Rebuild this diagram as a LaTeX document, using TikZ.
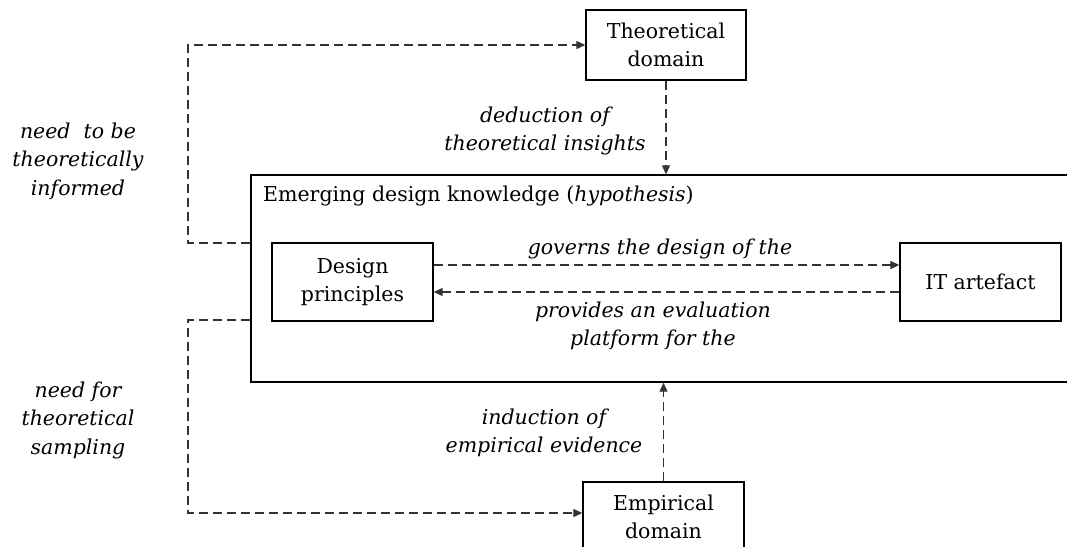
\documentclass[tikz,border=0pt]{standalone}
\usepackage{fontspec}
\setmainfont{DejaVu Serif}
\usetikzlibrary{arrows.meta}
\usetikzlibrary{positioning}
\tikzset{>={Triangle[length=9pt,width=8pt]}}
\definecolor{linegray}{HTML}{333333}
\tikzset{
  box/.style={draw=black, line width=1.4pt, fill=white, align=center, inner sep=0pt},
  flow/.style={draw=linegray, line width=1.2pt, dash pattern=on 9pt off 5pt},
  note/.style={align=center, font=\itshape},
}

\begin{document}
\begin{tikzpicture}[x=1pt, y=-1pt]
      \fontsize{20.5}{28.5}\selectfont
      \clip (0, 0) rectangle (1067, 546);
      \fill[white] (0, 0) rectangle (1067, 546);
      % nodes
      \node[box, minimum width=839, minimum height=207] (know) at (670.5, 278.5) {};
      \node[anchor=north west, inner sep=0pt] (knowlabel) at (263, 186) {Emerging design knowledge (\textit{hypothesis})};
      \node[box, minimum width=160, minimum height=70] (theo) at (666, 45) {Theoretical\\domain};
      \node[box, minimum width=161, minimum height=70] (emp) at (663.5, 517) {Empirical\\domain};
      \node[box, minimum width=161, minimum height=78] (dp) at (352.5, 282) {Design\\principles};
      \node[box, minimum width=161, minimum height=78] (it) at (980.5, 282) {IT artefact};
      % lines
      \coordinate (ltop) at (188, 243);
      \coordinate (lbot) at (188, 320);
      \draw[flow, ->] (ltop -| know.west) -- (ltop) |- (theo.west);
      \draw[flow, ->] (lbot -| know.west) -- (lbot) |- ([yshift=4]emp.west);
      \draw[flow, ->] (theo.south) -- (theo.south |- know.north);
      \draw[flow, ->] (emp.north) -- (emp.north |- know.south);
      \draw[flow, ->] ([yshift=17]dp.east) -- ([yshift=17]it.west);
      \draw[flow, <-] ([yshift=-10]dp.east) -- ([yshift=-10]it.west);
      % labels
      \node[note] (deduct) at (545, 131) {deduction of\\theoretical insights};
      \node[note] (induct) at (544, 433) {induction of\\empirical evidence};
      \node[note] (governs) at (660, 249) {governs the design of the};
      \node[note] (provides) at (653, 326) {provides an evaluation\\platform for the};
      \node[note] (informed) at (78, 161) {need \ to be\\theoretically\\informed};
      \node[note] (sampling) at (78, 420) {need for\\theoretical\\sampling};
\end{tikzpicture}
\end{document}
